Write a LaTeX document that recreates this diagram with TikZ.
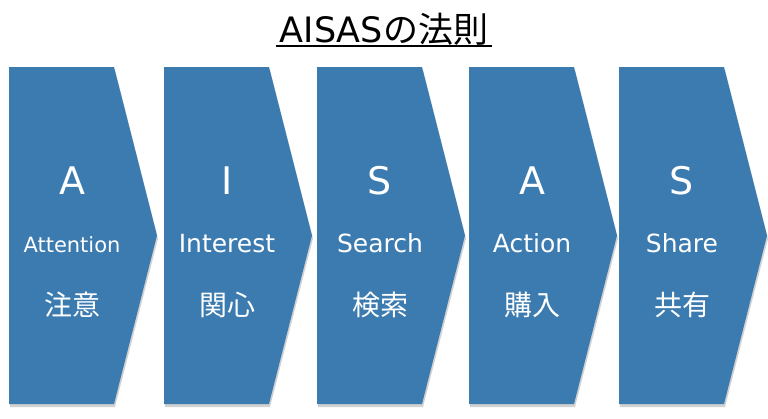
\documentclass[tikz,border=0pt]{standalone}
\usepackage{fontspec}
\setmainfont{Noto Sans CJK JP}
\newfontfamily\latin{DejaVu Sans}
\usepackage{xcolor}
\usepackage{tikz}
\usetikzlibrary{positioning}
\definecolor{stepblue}{RGB}{60,123,176}

\begin{document}
\begin{tikzpicture}[
  x=1pt,y=-1pt,
  chevron/.style={fill=stepblue},
  chevron shadow/.style={fill=black,opacity=.18},
  letter/.style={text=white,anchor=base,font=\latin\fontsize{38}{40}\selectfont},
  word/.style={text=white,anchor=base,font=\latin\fontsize{#1}{#1}\selectfont},
  kanji/.style={text=white,font=\fontsize{28}{30}\selectfont},
  heading/.style={text=black,font=\fontsize{35}{38}\selectfont}
  ]
  \useasboundingbox (0,0) rectangle (768,418);
  % title
  \node [heading,anchor=base] (title) at (384,42) {{\latin AISAS}の法則};
  \draw [line width=1.6pt] ([yshift=-4pt]title.base west) -- ([yshift=-4pt]title.base east);
  % five steps
  \foreach \x/\a/\e/\s/\j [count=\i] in {9/A/Attention/21/注意,164/I/Interest/25/関心,
      317/S/Search/25/検索,469/A/Action/25/購入,619/S/Share/25/共有} {
    \fill [chevron shadow] (\x+1,70) -- ++(105,0) -- ++(43,168.5) -- ++(-43,168.5) -- ++(-105,0) -- cycle;
    \fill [chevron] (\x,67) -- ++(105,0) -- ++(43,168.5) -- ++(-43,168.5) -- ++(-105,0) -- cycle;
    \node [letter]    (cap\i)   at (\x+63,194) {\a};
    \node [word=\s]   (word\i)  at (\x+63,252) {\e};
    \node [kanji]     (kanji\i) at (\x+63,305) {\j};
  }
\end{tikzpicture}
\end{document}
